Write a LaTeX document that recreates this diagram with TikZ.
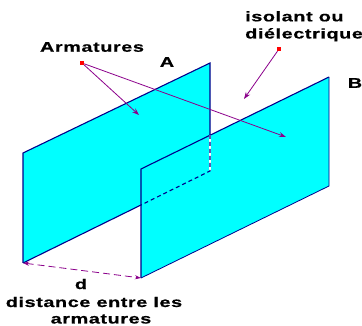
\documentclass[tikz,border=0pt]{standalone}
\usepackage{fontspec}
\setmainfont{Liberation Sans}[BoldFont={Liberation Sans Bold},BoldFeatures={FakeStretch=1.42,LetterSpace=4,FakeBold=0.6}]
\usetikzlibrary{arrows.meta,positioning}
\definecolor{plate}{RGB}{0,255,255}
\definecolor{edgeblue}{RGB}{0,0,139}
\definecolor{arrowpurple}{RGB}{139,0,139}
\begin{document}
\begin{tikzpicture}[
    x=1pt, y=-1pt,
    every node/.style={font=\bfseries\fontsize{14}{17.5}\selectfont, inner sep=0pt, align=center},
    edge/.style={edgeblue, line width=1.1pt},
    hidden/.style={edgeblue, line width=1.1pt, dash pattern=on 4pt off 3pt},
    arrow/.style={-{Stealth[length=7pt,width=5pt]}, arrowpurple, line width=0.8pt},
    dot/.style={fill=red, draw=none, minimum size=4pt, rectangle}
]
\useasboundingbox (0,0) rectangle (362,326);
\coordinate (a1) at (23,153);
\coordinate (a2) at (210,63);
\coordinate (a3) at (210,171);
\coordinate (a4) at (23,263);
\coordinate (b1) at (141,169);
\coordinate (b2) at (329,77);
\coordinate (b3) at (329,186);
\coordinate (b4) at (141,278);
\coordinate (cross) at (210,135);
\coordinate (hid) at (141,205);
\coordinate (t1) at (139,115);
\coordinate (t2) at (286,137);
\coordinate (t3) at (244,99);
\fill[plate] (a1) -- (a2) -- (a3) -- (a4) -- cycle;
\fill[plate] (b1) -- (b2) -- (b3) -- (b4) -- cycle;
\draw[edge] (a4) -- (a1) -- (a2) -- (cross);
\draw[edge] (a4) -- (hid);
\draw[edge] (b4) -- (b1) -- (b2);
\draw[edge, line width=0.8pt] (b2) -- (b3) -- (b4);
\draw[white, line width=1.1pt] (cross) -- (a3);
\draw[hidden] (cross) -- (a3) -- (hid);
\node (armatures) at (92,47) {Armatures};
\node (labela) at (167,62) {A};
\node (labelb) at (355,83) {B};
\node (isolant) [anchor=north west] at (245,11) {isolant ou};
\node (dielectrique) [anchor=north west] at (245,28) {diélectrique};
\node (d) at (81,284) {d};
\node (distance) at (94,302) {distance entre les};
\node (armature2) at (101,319) {armatures};
\node (dota) [dot] at (82,63) {};
\node (dotb) [dot] at (279,49) {};
\draw[arrow] (dota) -- (t1);
\draw[arrow] (dota) -- (t2);
\draw[arrow] (dotb) -- (t3);
\draw[{Stealth[length=6pt,width=4pt]}-{Stealth[length=6pt,width=4pt]}, arrowpurple, line width=0.8pt, dash pattern=on 7pt off 4pt] (a4) -- (b4);
\end{tikzpicture}
\end{document}
